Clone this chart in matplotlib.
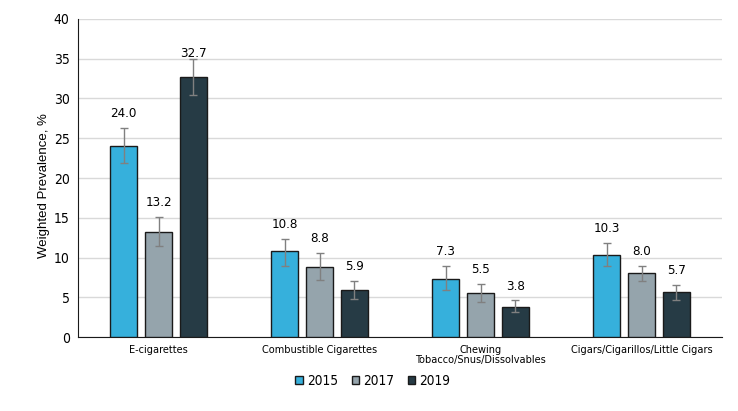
import matplotlib
matplotlib.use("Agg")
import matplotlib.pyplot as plt
from matplotlib import font_manager
import numpy as np

categories = ["E-cigarettes", "Combustible Cigarettes", "Chewing\nTobacco/Snus/Dissolvables", "Cigars/Cigarillos/Little Cigars"]
years = ["2015", "2017", "2019"]
values = {
    "2015": [24.0, 10.8, 7.3, 10.3],
    "2017": [13.2, 8.8, 5.5, 8.0],
    "2019": [32.7, 5.9, 3.8, 5.7],
}
ci_low = {
    "2015": [21.9, 8.9, 5.9, 8.9],
    "2017": [11.5, 7.2, 4.4, 7.0],
    "2019": [30.4, 4.8, 3.1, 4.7],
}
ci_high = {
    "2015": [26.3, 12.3, 8.9, 11.8],
    "2017": [15.1, 10.6, 6.7, 8.9],
    "2019": [35.0, 7.1, 4.6, 6.6],
}
colors = {"2015": "#36B0DC", "2017": "#95A4AC", "2019": "#263B45"}

cond = [f for f in font_manager.fontManager.ttflist if "Condensed" in f.fname and "DejaVuSans" in f.fname]
plt.rcParams["font.family"] = ["DejaVu Sans"]
if cond:
    plt.rcParams["font.stretch"] = "condensed"

fig = plt.figure(figsize=(7.38, 4.11), dpi=100)
ax = fig.add_axes([78/738, 1-337/411, 644/738, 318/411])

x = np.arange(len(categories))
width = 0.168
offsets = [-0.217, 0, 0.217]
for yr, off in zip(years, offsets):
    v = np.array(values[yr])
    lo = v - np.array(ci_low[yr])
    hi = np.array(ci_high[yr]) - v
    ax.bar(x + off, v, width, color=colors[yr], edgecolor="#1a1a1a", linewidth=1.0,
           label=yr, zorder=3)
    ax.errorbar(x + off, v, yerr=[lo, hi], fmt="none", ecolor="#808080",
                elinewidth=1.0, capsize=3, capthick=1.0, zorder=4)
    for xi, vi, hv in zip(x + off, v, ci_high[yr]):
        ax.text(xi, min(hv + 1.8, 35.7), f"{vi:.1f}", ha="center", va="center",
                fontsize=9.5, zorder=5)

ax.set_xlim(-0.5, 3.5)
ax.set_ylim(0, 40)
ax.set_yticks(range(0, 41, 5))
ax.set_xticks(x)
ax.set_xticklabels(categories, fontsize=7.8, linespacing=1.0)
ax.tick_params(axis="x", length=0, pad=6)
ax.tick_params(axis="y", length=0, labelsize=10, pad=6)
ax.grid(axis="y", color="#d9d9d9", linewidth=1.0, zorder=0)
for s in ["top", "right"]:
    ax.spines[s].set_visible(False)
ax.spines["left"].set_color("#1a1a1a")
ax.spines["bottom"].set_color("#1a1a1a")
ax.set_ylabel("Weighted Prevalence, %", fontsize=9.5, family=["Liberation Sans", "DejaVu Sans"],
              fontstretch="normal")
ax.yaxis.set_label_coords(-0.044, 0.475)

fig.legend(loc="center", bbox_to_anchor=(373/738, 1-381/411), ncol=3, frameon=False,
           fontsize=9.8, handlelength=0.55, handleheight=0.55, handletextpad=0.3,
           columnspacing=1.0)

fig.savefig("out.png", dpi=100)
